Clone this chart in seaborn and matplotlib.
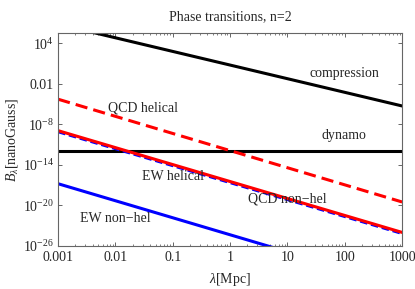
import numpy as np
import pandas as pd
import matplotlib
matplotlib.use("Agg")
import matplotlib.pyplot as plt
import matplotlib.ticker as mticker
import seaborn as sns

# endpoints of each line
lam         = [1e-3, 1e3]
compression = [10**6.8, 10**-5.3]
dynamo      = [10**-11.9, 10**-11.9]
qcd_hel     = [10**-4.3, 10**-19.5]
ew_hel      = [10**-9.15, 10**-24.2]
qcd_nonhel  = [10**-8.95, 10**-24.0]
ew_nonhel   = [10**-16.8, 10**-31.9]

xticks      = [1e-3, 1e-2, 1e-1, 1, 10, 100, 1000]
xticklabels = ["0.001", "0.01", "0.1", "1", "10", "100", "1000"]
yticks      = [1e4, 1e-2, 1e-8, 1e-14, 1e-20, 1e-26]
yticklabels = [r"$10^{4}$", "0.01", r"$10^{-8}$", r"$10^{-14}$",
               r"$10^{-20}$", r"$10^{-26}$"]

sns.set_style("ticks")
plt.rcParams["font.family"] = ["Liberation Serif", "DejaVu Serif"]
plt.rcParams["mathtext.fontset"] = "custom"
plt.rcParams["mathtext.rm"] = "Liberation Serif"
plt.rcParams["mathtext.it"] = "Liberation Serif:italic"
plt.rcParams["font.size"] = 10

fig = plt.figure(figsize=(4.15, 2.89), dpi=100)
ax = fig.add_axes([0.14, 0.149, 0.829, 0.737])

series = [
    (compression, "black", "-", 2.2),
    (dynamo,      "black", "-", 2.2),
    (ew_hel,      "blue",  (0, (3, 1.5)), 1.8),
    (qcd_nonhel,  "red",   "-", 2.2),
    (qcd_hel,     "red",   (0, (4, 2)), 2.2),
    (ew_nonhel,   "blue",  "-", 2.2),
]
for vals, col, ls, lw in series:
    df = pd.DataFrame({"lam": lam, "B": vals})
    sns.lineplot(data=df, x="lam", y="B", ax=ax, color=col,
                 linestyle=ls, linewidth=lw)

ax.set_xscale("log")
ax.set_yscale("log")
ax.set_xlim(1e-3, 1e3)
ax.set_ylim(1e-26, 10**5.5)

ax.set_xticks(xticks)
ax.set_xticklabels(xticklabels)
ax.xaxis.set_minor_locator(mticker.LogLocator(base=10, subs=np.arange(2, 10)))
ax.xaxis.set_minor_formatter(mticker.NullFormatter())
ax.set_yticks(yticks)
ax.set_yticklabels(yticklabels)
ax.yaxis.set_minor_locator(mticker.NullLocator())
ax.tick_params(which="both", direction="in", top=True, right=True,
               color="0.3", labelsize=10)
ax.tick_params(axis="x", pad=4)
ax.tick_params(axis="y", pad=3)
ax.tick_params(which="major", length=3, width=0.6)
ax.tick_params(which="minor", length=1.5, width=0.5)
for sp in ax.spines.values():
    sp.set_color("0.4")
    sp.set_linewidth(0.8)

ax.text(100, 10**-0.45, "compression", ha="center", va="center")
ax.text(95, 10**-9.6, "dynamo", ha="center", va="center")
ax.text(0.03, 10**-5.6, "QCD helical", ha="center", va="center")
ax.text(0.1, 10**-15.8, "EW helical", ha="center", va="center")
ax.text(10, 10**-19.1, "QCD non\u2212hel", ha="center", va="center")
ax.text(0.01, 10**-22, "EW non\u2212hel", ha="center", va="center")

ax.set_title("Phase transitions, n=2", fontsize=10, pad=9)
ax.set_xlabel(r"$\lambda$[Mpc]", labelpad=5)
ax.set_ylabel(r"$B_\lambda$[nanoGauss]", labelpad=2)

fig.savefig("out.png", dpi=100)
plt.close(fig)
